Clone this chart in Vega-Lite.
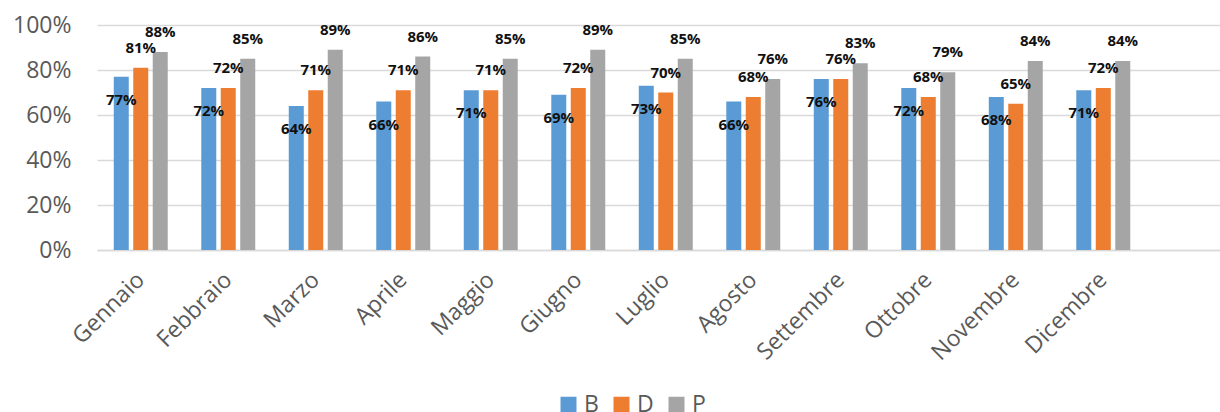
{
  "$schema": "https://vega.github.io/schema/vega-lite/v6.json",
  "autosize": {"type": "none"},
  "width": 1123,
  "height": 225,
  "padding": {"left": 97, "top": 25, "right": 0, "bottom": 162},
  "background": "white",
  "config": {"view": {"stroke": null}, "font": "Open Sans"},
  "data": {"values": [
    {"month": "Gennaio", "series": "B", "value": 0.77},
    {"month": "Gennaio", "series": "D", "value": 0.81},
    {"month": "Gennaio", "series": "P", "value": 0.88},
    {"month": "Febbraio", "series": "B", "value": 0.72},
    {"month": "Febbraio", "series": "D", "value": 0.72},
    {"month": "Febbraio", "series": "P", "value": 0.85},
    {"month": "Marzo", "series": "B", "value": 0.64},
    {"month": "Marzo", "series": "D", "value": 0.71},
    {"month": "Marzo", "series": "P", "value": 0.89},
    {"month": "Aprile", "series": "B", "value": 0.66},
    {"month": "Aprile", "series": "D", "value": 0.71},
    {"month": "Aprile", "series": "P", "value": 0.86},
    {"month": "Maggio", "series": "B", "value": 0.71},
    {"month": "Maggio", "series": "D", "value": 0.71},
    {"month": "Maggio", "series": "P", "value": 0.85},
    {"month": "Giugno", "series": "B", "value": 0.69},
    {"month": "Giugno", "series": "D", "value": 0.72},
    {"month": "Giugno", "series": "P", "value": 0.89},
    {"month": "Luglio", "series": "B", "value": 0.73},
    {"month": "Luglio", "series": "D", "value": 0.70},
    {"month": "Luglio", "series": "P", "value": 0.85},
    {"month": "Agosto", "series": "B", "value": 0.66},
    {"month": "Agosto", "series": "D", "value": 0.68},
    {"month": "Agosto", "series": "P", "value": 0.76},
    {"month": "Settembre", "series": "B", "value": 0.76},
    {"month": "Settembre", "series": "D", "value": 0.76},
    {"month": "Settembre", "series": "P", "value": 0.83},
    {"month": "Ottobre", "series": "B", "value": 0.72},
    {"month": "Ottobre", "series": "D", "value": 0.68},
    {"month": "Ottobre", "series": "P", "value": 0.79},
    {"month": "Novembre", "series": "B", "value": 0.68},
    {"month": "Novembre", "series": "D", "value": 0.65},
    {"month": "Novembre", "series": "P", "value": 0.84},
    {"month": "Dicembre", "series": "B", "value": 0.71},
    {"month": "Dicembre", "series": "D", "value": 0.72},
    {"month": "Dicembre", "series": "P", "value": 0.84}
  ]},
  "encoding": {
    "x": {
      "field": "month", "type": "nominal",
      "sort": ["Gennaio","Febbraio","Marzo","Aprile","Maggio","Giugno","Luglio","Agosto","Settembre","Ottobre","Novembre","Dicembre"],
      "scale": {"paddingInner": 0, "paddingOuter": 0.417, "align": 0},
      "axis": {
        "title": null, "labelAngle": -45, "labelAlign": "right", "labelBaseline": "middle",
        "labelFontSize": 23, "labelColor": "#595959", "labelPadding": 26,
        "ticks": false, "domainColor": "#D9D9D9", "domainWidth": 1.5, "grid": false
      }
    },
    "xOffset": {
      "field": "series", "type": "nominal",
      "scale": {"paddingInner": 0.23, "paddingOuter": 0.86}
    },
    "y": {
      "field": "value", "type": "quantitative",
      "scale": {"domain": [0, 1]},
      "axis": {
        "title": null, "format": ".0%", "values": [0, 0.2, 0.4, 0.6, 0.8, 1.0],
        "labelFontSize": 23, "labelColor": "#595959", "labelPadding": 26,
        "ticks": false, "domain": false, "grid": true, "gridColor": "#D9D9D9", "gridWidth": 1.5
      }
    }
  },
  "layer": [
    {
      "mark": {"type": "bar"},
      "encoding": {
        "color": {
          "field": "series", "type": "nominal",
          "scale": {"domain": ["B", "D", "P"], "range": ["#5B9BD5", "#ED7D31", "#A5A5A5"]},
          "legend": {
            "title": null, "orient": "none", "direction": "horizontal",
            "legendX": 460, "legendY": 368,
            "symbolType": "square", "symbolSize": 256, "symbolStrokeWidth": 0,
            "labelFontSize": 23, "labelColor": "#595959", "columnPadding": 11, "labelOffset": 4
          }
        }
      }
    },
    {
      "transform": [{"filter": "datum.series === 'B'"}],
      "mark": {"type": "text", "dy": 23, "fontSize": 15, "fontWeight": "bold", "font": "Open Sans", "color": "#111111"},
      "encoding": {"text": {"field": "value", "type": "quantitative", "format": ".0%"}}
    },
    {
      "transform": [{"filter": "datum.series !== 'B'"}],
      "mark": {"type": "text", "dy": -20, "fontSize": 15, "fontWeight": "bold", "font": "Open Sans", "color": "#111111"},
      "encoding": {"text": {"field": "value", "type": "quantitative", "format": ".0%"}}
    }
  ]
}
